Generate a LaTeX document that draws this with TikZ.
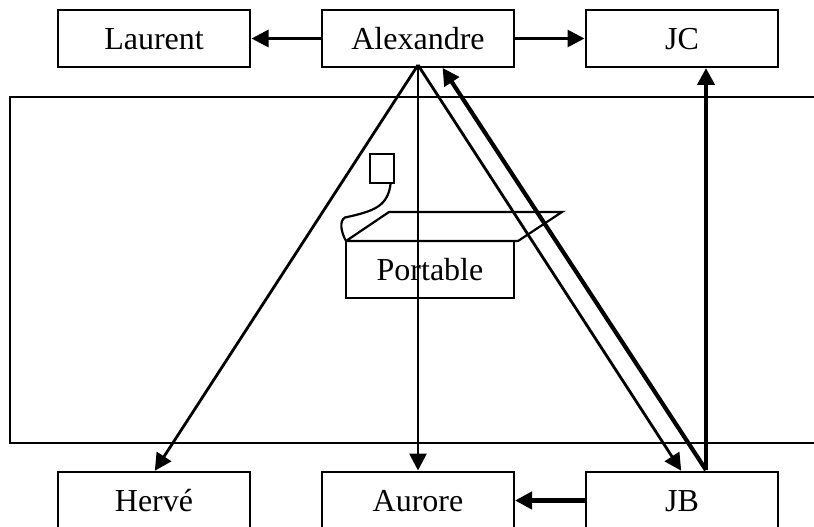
\documentclass[tikz,border=0pt]{standalone}
\usepackage{fontspec}
\setmainfont{Liberation Serif}
\usetikzlibrary{arrows.meta}
\tikzset{
  x=1pt,y=-1pt,
  labelbox/.style={draw=black,line width=2.2pt,rectangle,minimum width=192pt,minimum height=57pt,inner sep=0pt,outer sep=0pt,
    font=\fontsize{32pt}{36pt}\selectfont,text height=22pt,text depth=0pt},
  pointer/.style={line width=2.8pt,-{Triangle[length=17pt,width=17pt]},shorten >=1.5pt},
  heavypointer/.style={line width=4.2pt,-{Triangle[length=17pt,width=17pt]},shorten >=1pt},
  outline/.style={line width=2.2pt,line join=miter},
}
\begin{document}
\begin{tikzpicture}
\clip (0,0) rectangle (814,527);
\fill[white] (0,0) rectangle (814,527);
% big frame, open past the right edge
\draw[outline] (10,97) rectangle (840,443);
% laptop
\node[labelbox,minimum width=168pt] (portable) at (430,269.5) {Portable};
\draw[outline] (portable.north west) -- (389,212) -- (562,212) -- (518,241) -- (portable.north west);
\node[draw=black,line width=2.2pt,rectangle,minimum width=24pt,minimum height=29pt,inner sep=0pt,outer sep=0pt] (screen) at (382,168.5) {};
\coordinate (plug) at (390.7,183);
\draw[outline] (plug) .. controls (388,206) and (375,211) .. (345,217.5)
  .. controls (339,221) and (341,232) .. (portable.north west);
% people
\node[labelbox] (laurent) at (154,38.5) {Laurent};
\node[labelbox] (alexandre) at (418,38.5) {Alexandre};
\node[labelbox] (jc) at (682,38.5) {JC};
\node[labelbox] (herve) at (154,500.5) {Hervé};
\node[labelbox] (aurore) at (418,500.5) {Aurore};
\node[labelbox] (jb) at (682,500.5) {JB};
\coordinate (jbout) at (706,470);
\coordinate (jcin) at (706,67);
\coordinate (alexin) at (442,67);
\coordinate (alexout) at (418,65);
% connectors
\draw[pointer] (alexandre.west) -- (laurent.east);
\draw[pointer] (alexandre.east) -- (jc.west);
\draw[pointer] (alexout) -- (herve.north);
\draw[pointer] (alexout) -- (aurore.north);
\draw[pointer] (alexout) -- (jb.north);
\draw[heavypointer] (jbout) -- (alexin);
\draw[heavypointer] (jbout) -- (jcin);
\draw[heavypointer] (jb.west) -- (aurore.east);
\end{tikzpicture}
\end{document}
